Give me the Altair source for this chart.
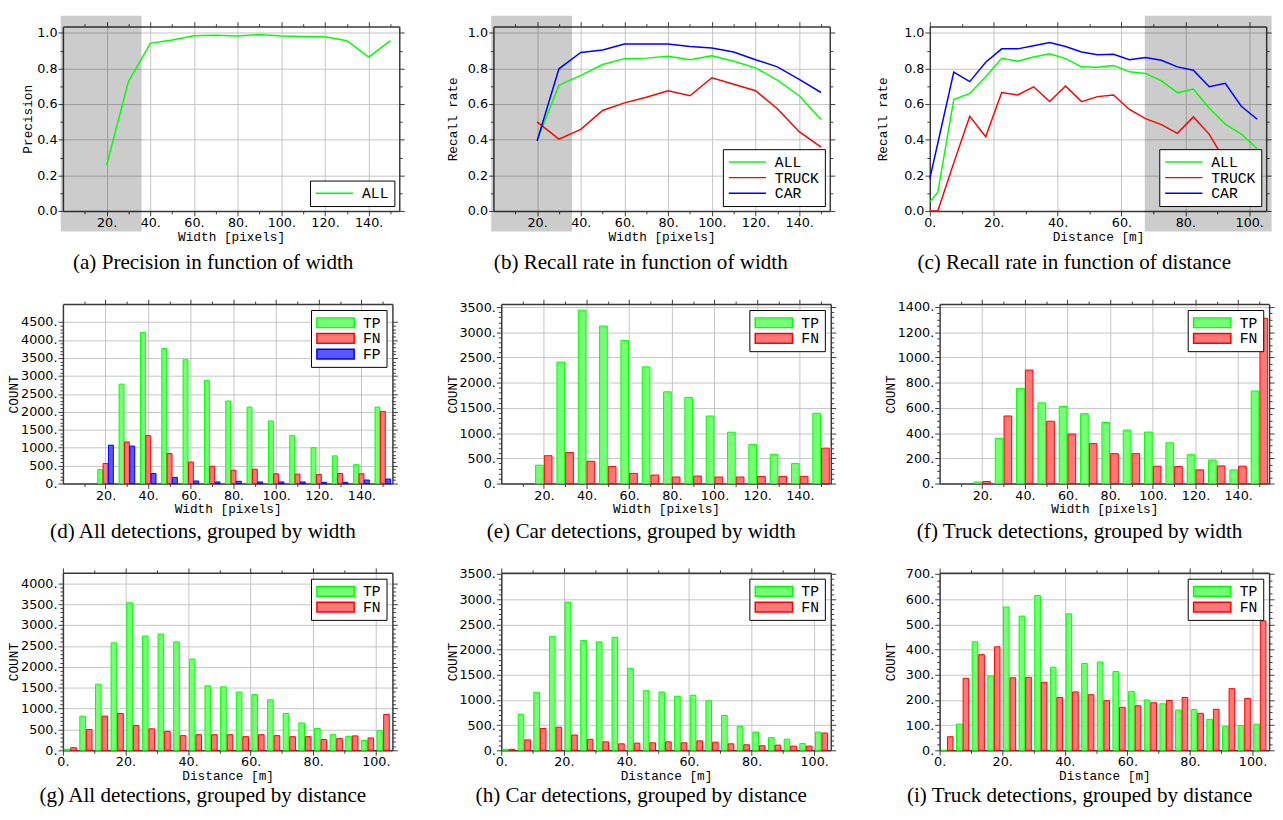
import altair as alt
import pandas as pd

# ---------------- data ----------------
width_bins = [20, 30, 40, 50, 60, 70, 80, 90, 100, 110, 120, 130, 140, 150]
precision_all = [0.257, 0.726, 0.941, 0.960, 0.983, 0.987, 0.982, 0.991, 0.982, 0.980, 0.978, 0.956, 0.864, 0.956]
recall_w_all = [0.395, 0.706, 0.761, 0.822, 0.855, 0.858, 0.868, 0.849, 0.871, 0.840, 0.803, 0.735, 0.647, 0.513]
recall_w_truck = [0.500, 0.403, 0.458, 0.564, 0.607, 0.638, 0.675, 0.647, 0.748, 0.711, 0.675, 0.574, 0.445, 0.358]
recall_w_car = [0.393, 0.798, 0.890, 0.904, 0.937, 0.937, 0.937, 0.923, 0.915, 0.892, 0.849, 0.809, 0.739, 0.665]

dist_points = [0, 2.5, 7.5, 12.5, 17.5, 22.5, 27.5, 32.5, 37.5, 42.5, 47.5, 52.5, 57.5, 62.5,
               67.5, 72.5, 77.5, 82.5, 87.5, 92.5, 97.5, 102.5]
recall_d_all = [0.050, 0.105, 0.625, 0.660, 0.754, 0.857, 0.840, 0.864, 0.882, 0.855, 0.809, 0.807,
                0.816, 0.781, 0.772, 0.730, 0.664, 0.684, 0.577, 0.487, 0.432, 0.349]
recall_d_truck = [0.0, 0.0, 0.270, 0.531, 0.417, 0.665, 0.651, 0.697, 0.614, 0.702, 0.614, 0.642,
                  0.651, 0.570, 0.518, 0.485, 0.436, 0.528, 0.430, 0.279, 0.316, 0.164]
recall_d_car = [0.182, 0.380, 0.779, 0.726, 0.835, 0.910, 0.910, 0.928, 0.945, 0.923, 0.892, 0.877,
                0.880, 0.849, 0.862, 0.846, 0.809, 0.790, 0.697, 0.717, 0.588, 0.515]

all_w_tp = [390, 2770, 4210, 3760, 3450, 2870, 2300, 2130, 1745, 1335, 1000, 773, 527, 2130]
all_w_fn = [560, 1160, 1335, 835, 600, 482, 373, 400, 273, 264, 255, 282, 273, 2010]
all_w_fp = [1070, 1045, 282, 173, 73, 45, 64, 45, 45, 45, 36, 36, 100, 127]
car_w_tp = [364, 2410, 3440, 3125, 2840, 2315, 1820, 1710, 1340, 1020, 774, 579, 397, 1395]
car_w_fn = [553, 618, 442, 338, 202, 169, 130, 150, 130, 130, 143, 143, 143, 703]
truck_w_tp = [13, 359, 755, 640, 611, 554, 484, 424, 408, 323, 229, 187, 109, 734]
truck_w_fn = [16, 536, 900, 494, 393, 317, 237, 237, 138, 135, 109, 140, 138, 1311]

dist_bins = [2.5, 7.5, 12.5, 17.5, 22.5, 27.5, 32.5, 37.5, 42.5, 47.5, 52.5, 57.5, 62.5,
             67.5, 72.5, 77.5, 82.5, 87.5, 92.5, 97.5, 102.5]
all_d_tp = [25, 819, 1583, 2573, 3532, 2737, 2784, 2596, 2183, 1544, 1520, 1396, 1333, 1209, 881,
            655, 522, 374, 335, 234, 468]
all_d_fn = [62, 499, 819, 881, 593, 515, 452, 351, 374, 374, 374, 327, 374, 351, 327, 327, 257,
            281, 345, 296, 858]
car_d_tp = [20, 718, 1151, 2264, 2943, 2180, 2154, 2245, 1630, 1184, 1158, 1074, 1093, 983, 692,
            479, 362, 252, 220, 136, 362]
car_d_fn = [20, 207, 433, 459, 304, 220, 168, 129, 142, 149, 168, 149, 188, 162, 129, 110, 91,
            103, 84, 84, 343]
truck_d_tp = [0, 104, 431, 295, 569, 533, 615, 330, 542, 345, 351, 313, 234, 200, 185, 160, 162,
              123, 94, 98, 104]
truck_d_fn = [54, 286, 380, 411, 288, 290, 270, 210, 232, 221, 197, 171, 177, 189, 198, 210, 147,
              163, 245, 206, 514]

shade_width = [-1, 36]
shade_dist = [67.3, 107]

width_major = [20, 40, 60, 80, 100, 120, 140]
width_minor = [10, 30, 50, 70, 90, 110, 130, 150]
dist_major = [0, 20, 40, 60, 80, 100]
dist_minor = [10, 30, 50, 70, 90]
rate_major = [0.0, 0.2, 0.4, 0.6, 0.8, 1.0]
rate_minor = [0.1, 0.3, 0.5, 0.7, 0.9]

captions = {
    "a": "(a) Precision in function of width",
    "b": "(b) Recall rate in function of width",
    "c": "(c) Recall rate in function of distance",
    "d": "(d) All detections, grouped by width",
    "e": "(e) Car detections, grouped by width",
    "f": "(f) Truck detections, grouped by width",
    "g": "(g) All detections, grouped by distance",
    "h": "(h) Car detections, grouped by distance",
    "i": "(i) Truck detections, grouped by distance",
}

# ---------------- style ----------------
GREEN, RED, BLUE = "#00ff00", "#ff0000", "#0000ff"
LIGHT = {"TP": "#74ff74", "FN": "#ff7878", "FP": "#5858ff"}
STRONG = {"TP": GREEN, "FN": RED, "FP": BLUE, "ALL": GREEN, "TRUCK": RED, "CAR": BLUE}
FRAME = "#3a3a3a"
FMT_RATE = "format(datum.value, '.1f')"
FMT_DOT = "format(datum.value, 'd') + '.'"
CAP_FONT = "Liberation Serif"
MONO = "Liberation Mono"
SYM_SIZE = 196                      # sqrt = 14 px row height
BAR_SYM = "M-1,-0.71H4.43V0.71H-1Z"  # 38 x 10 px swatch
LINE_SYM = "M-1,0H4.43"              # 38 px line
LBL_OFF = 32


def test_expr(major):
    return "indexof([" + ",".join(str(v) for v in major) + "], datum.value) >= 0"


def main_axis(orient, major, minor, title, fmt, extent=None, tpad=1):
    t = test_expr(major)
    kw = dict(orient=orient, values=sorted(major + minor), title=title,
              labelExpr=t + " ? " + fmt + " : ''",
              tickSize={"condition": {"test": t, "value": 5}, "value": 3},
              gridOpacity={"condition": {"test": t, "value": 1}, "value": 0},
              grid=True, labelOverlap=False, labelFlush=False, titlePadding=tpad,
              domain=True, zindex=0)
    if extent is not None:
        kw.update(minExtent=extent, maxExtent=extent)
    return alt.Axis(**kw)


def mirror_axis(orient, major, minor):
    t = test_expr(major)
    return alt.Axis(orient=orient, values=sorted(major + minor), title=None, labels=False,
                    grid=False, domain=True, zindex=0,
                    tickSize={"condition": {"test": t, "value": 5}, "value": 3})


def caption(key, off):
    return alt.TitleParams(captions[key], orient="bottom", anchor="middle", frame="bounds",
                           offset=off, font=CAP_FONT, fontSize=21.5, fontWeight="normal",
                           color="black")


def legend(orient, offset, symbol):
    return alt.Legend(title=None, orient=orient, offset=offset, padding=5,
                      strokeColor="black", fillColor="white", symbolType=symbol,
                      symbolSize=SYM_SIZE, symbolStrokeWidth=1.5, labelFont=MONO,
                      labelFontSize=15, labelColor="black", labelOffset=LBL_OFF, rowPadding=-2)


def line_panel(xs_vals, series, xdom, xmaj, xmin, xtitle, ytitle, shade, key, W, H,
               yext, ytpad, cap_off):
    rows = []
    for name, vals in series:
        for xv, v in zip(xs_vals, vals):
            rows.append({"x": xv, "value": v, "series": name})
    df = pd.DataFrame(rows)
    names = [n for n, _ in series]
    xs = alt.Scale(domain=xdom, nice=False, zero=False)
    ys = alt.Scale(domain=[0, 1.035], nice=False)
    layers = []
    if shade is not None:
        sdf = pd.DataFrame({"x0": [shade[0]], "x1": [shade[1]]})
        layers.append(alt.Chart(sdf).mark_rect(color="#000000", opacity=0.2, clip=False).encode(
            x=alt.X("x0:Q", scale=xs, axis=None), x2="x1:Q",
            y=alt.value(-11), y2=alt.value(H + 21)))
    layers.append(alt.Chart(df).mark_line(strokeWidth=1.5).encode(
        x=alt.X("x:Q", scale=xs, axis=main_axis("bottom", xmaj, xmin, xtitle, FMT_DOT)),
        y=alt.Y("value:Q", scale=ys,
                axis=main_axis("left", rate_major, rate_minor, ytitle, FMT_RATE, yext, ytpad)),
        color=alt.Color("series:N", scale=alt.Scale(domain=names,
                                                   range=[STRONG[n] for n in names]),
                        legend=legend("bottom-right", 5, LINE_SYM))))
    layers.append(alt.Chart(df).mark_point(opacity=0).encode(
        x=alt.X("x:Q", scale=xs, axis=mirror_axis("top", xmaj, xmin)),
        y=alt.Y("value:Q", scale=ys, axis=mirror_axis("right", rate_major, rate_minor))))
    return alt.layer(*layers).properties(width=W, height=H, title=caption(key, cap_off))


def bar_panel(bins, series, offsets, xdom, xmaj, xmin, xtitle, ydom, ymaj, ymin, key, W, H,
              yext, ytpad, cap_off):
    rows = []
    for name, vals in series:
        for b, v in zip(bins, vals):
            rows.append({"bin": b, "value": v, "series": name})
    df = pd.DataFrame(rows)
    names = [n for n, _ in series]
    lo = "0"
    hi = "0"
    for n in names:
        lo = "datum.series == '%s' ? datum.bin + (%s) : (%s)" % (n, offsets[n][0], lo)
        hi = "datum.series == '%s' ? datum.bin + (%s) : (%s)" % (n, offsets[n][1], hi)
    xs = alt.Scale(domain=xdom, nice=False, zero=False)
    ys = alt.Scale(domain=ydom, nice=False)
    leg = legend("top-right", 6, BAR_SYM)
    base = alt.Chart(df).transform_calculate(x0=lo, x1=hi)
    bars = base.mark_rect(strokeWidth=1).encode(
        x=alt.X("x0:Q", scale=xs, axis=main_axis("bottom", xmaj, xmin, xtitle, FMT_DOT)),
        x2="x1:Q",
        y=alt.Y("value:Q", scale=ys,
                axis=main_axis("left", ymaj, ymin, "COUNT", FMT_DOT, yext, ytpad)),
        y2=alt.datum(0),
        fill=alt.Fill("series:N", scale=alt.Scale(domain=names, range=[LIGHT[n] for n in names]),
                      legend=leg),
        stroke=alt.Stroke("series:N", scale=alt.Scale(domain=names,
                                                     range=[STRONG[n] for n in names]),
                          legend=leg))
    mirror = base.mark_point(opacity=0).encode(
        x=alt.X("x0:Q", scale=xs, axis=mirror_axis("top", xmaj, xmin)),
        y=alt.Y("value:Q", scale=ys, axis=mirror_axis("right", ymaj, ymin)))
    return alt.layer(bars, mirror).properties(width=W, height=H, title=caption(key, cap_off))


def steps(stop, step):
    return list(range(0, stop + 1, step))


def minor_of(major, step):
    return [v for v in range(0, major[-1] + 1, step) if v not in major]


def indep(ch):
    return ch.resolve_scale(color="independent", fill="independent", stroke="independent",
                            x="independent", y="independent").resolve_legend(
        color="independent", fill="independent", stroke="independent")


W1, H1 = 343, 188
W2, H2 = 336, 183
W3, H3 = 336, 181
E1 = 27
E2, P2 = 43, 0

a = line_panel(width_bins, [("ALL", precision_all)], [0, 154], width_major, width_minor,
               "Width [pixels]", "Precision", shade_width, "a", W1, H1, E1, 2, 9)
b = line_panel(width_bins, [("ALL", recall_w_all), ("TRUCK", recall_w_truck), ("CAR", recall_w_car)],
               [0, 154], width_major, width_minor, "Width [pixels]", "Recall rate", shade_width,
               "b", W1, H1, E1, 8, 9)
c = line_panel(dist_points, [("ALL", recall_d_all), ("TRUCK", recall_d_truck), ("CAR", recall_d_car)],
               [0, 105.3], dist_major, dist_minor, "Distance [m]", "Recall rate", shade_dist,
               "c", W1, H1, E1, 14, 9)

off3 = {"TP": (-3.65, -1.35), "FN": (-1.15, 1.15), "FP": (1.35, 3.65)}
off2 = {"TP": (-3.9, -0.3), "FN": (0.2, 3.8)}
offd = {"TP": (-2.1, -0.3), "FN": (0.0, 1.8)}

ym_d = steps(4500, 500)
ym_e = steps(3500, 500)
ym_f = steps(1400, 200)
ym_g = steps(4000, 500)
ym_h = steps(3500, 500)
ym_i = steps(700, 100)

d = bar_panel(width_bins, [("TP", all_w_tp), ("FN", all_w_fn), ("FP", all_w_fp)], off3,
              [0, 154.5], width_major, width_minor, "Width [pixels]", [0, 5000], ym_d,
              minor_of(ym_d, 100), "d", W2, H2, E2, P2, 5)
e = bar_panel(width_bins, [("TP", car_w_tp), ("FN", car_w_fn)], off2,
              [0, 154.5], width_major, width_minor, "Width [pixels]", [0, 3560], ym_e,
              minor_of(ym_e, 100), "e", W2, H2, E2, P2, 5)
f = bar_panel(width_bins, [("TP", truck_w_tp), ("FN", truck_w_fn)], off2,
              [0, 154.5], width_major, width_minor, "Width [pixels]", [0, 1423], ym_f,
              minor_of(ym_f, 50), "f", W2, H2, E2, P2, 5)
g = bar_panel(dist_bins, [("TP", all_d_tp), ("FN", all_d_fn)], offd,
              [0, 105.3], dist_major, dist_minor, "Distance [m]", [0, 4250], ym_g,
              minor_of(ym_g, 100), "g", W3, H3, E2, P2, 3)
h = bar_panel(dist_bins, [("TP", car_d_tp), ("FN", car_d_fn)], offd,
              [0, 105.3], dist_major, dist_minor, "Distance [m]", [0, 3525], ym_h,
              minor_of(ym_h, 100), "h", W3, H3, E2, P2, 3)
i = bar_panel(dist_bins, [("TP", truck_d_tp), ("FN", truck_d_fn)], offd,
              [0, 105.3], dist_major, dist_minor, "Distance [m]", [0, 705], ym_i,
              minor_of(ym_i, 25), "i", W3, H3, E2, P2, 3)

grid = alt.concat(a, b, c, d, e, f, g, h, i, columns=3, align="none",
                  spacing={"row": 25, "column": 42})

chart = indep(grid).properties(padding=0).configure_view(
    stroke=None
).configure_axis(
    labelFont="DejaVu Sans", labelFontSize=13, labelColor="black", labelPadding=1,
    titleFont=MONO, titleFontSize=13, titleFontWeight="normal", titleColor="black",
    domainColor=FRAME, domainWidth=1.5, tickColor=FRAME, tickWidth=1,
    gridColor="#c4c4c4", gridWidth=1
)

chart.save("out.html", embed_options={"renderer": "svg", "actions": False})
